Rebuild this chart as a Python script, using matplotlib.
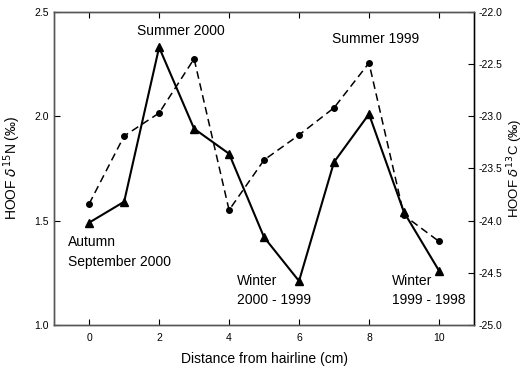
import matplotlib
matplotlib.use("Agg")
import matplotlib.pyplot as plt

plt.rcParams['font.family'] = ['Liberation Sans', 'DejaVu Sans']

# distance from hairline (cm)
distance = [0, 1, 2, 3, 4, 5, 6, 7, 8, 9, 10]
# hoof d15N (per mil), left axis
d15n = [1.49, 1.59, 2.33, 1.94, 1.82, 1.42, 1.21, 1.78, 2.01, 1.54, 1.26]
# hoof d13C (per mil), right axis
d13c = [-23.84, -23.19, -22.97, -22.45, -23.90, -23.42, -23.18, -22.92, -22.49, -23.95, -24.20]

fig = plt.figure(figsize=(5.26, 3.70), dpi=100)
ax = fig.add_axes([0.103, 0.122, 0.798, 0.846])
ax2 = ax.twinx()

ax.plot(distance, d15n, color='black', linestyle='-', linewidth=1.5,
        marker='^', markersize=6)
ax2.plot(distance, d13c, color='black', linestyle=(0, (5, 3)), linewidth=1.1,
         marker='o', markersize=4)

ax.set_xlim(-1, 11)
ax.set_ylim(1.0, 2.5)
ax2.set_ylim(-25.0, -22.0)
ax.set_xticks([0, 2, 4, 6, 8, 10])
ax.set_yticks([1.0, 1.5, 2.0, 2.5])
ax2.set_yticks([-25.0, -24.5, -24.0, -23.5, -23.0, -22.5, -22.0])
ax2.set_yticklabels(['-25.0', '-24.5', '-24.0', '-23.5', '-23.0', '-22.5', '-22.0'])

ax.tick_params(axis='x', direction='in', top=True, labelsize=7.5, length=4, pad=6)
ax.tick_params(axis='y', direction='in', labelsize=7.5, length=4, pad=4)
ax2.tick_params(axis='y', direction='in', labelsize=7.5, length=4, pad=3)

for a in (ax, ax2):
    for s in a.spines.values():
        s.set_color('#555555')
        s.set_linewidth(1.0)
ax2.spines['right'].set_color('black')

ax.set_xlabel('Distance from hairline (cm)', fontsize=10, labelpad=6)
ax.set_ylabel('HOOF $\\delta^{15}$N (‰)', fontsize=10, labelpad=8)
ax2.set_ylabel('HOOF $\\delta^{13}$C (‰)', fontsize=9.5)
ax2.yaxis.set_label_coords(1.075, 0.5)

# season annotations
ax.text(2.63, 2.41, 'Summer 2000', fontsize=10, ha='center', va='center')
ax.text(8.2, 2.37, 'Summer 1999', fontsize=10, ha='center', va='center')
ax.text(-0.6, 1.43, 'Autumn\nSeptember 2000', fontsize=10, ha='left', va='top',
        linespacing=1.5)
ax.text(4.23, 1.245, 'Winter\n2000 - 1999', fontsize=10, ha='left', va='top',
        linespacing=1.5)
ax.text(8.66, 1.245, 'Winter\n1999 - 1998', fontsize=10, ha='left', va='top',
        linespacing=1.5)

fig.savefig('out.png', dpi=100)
